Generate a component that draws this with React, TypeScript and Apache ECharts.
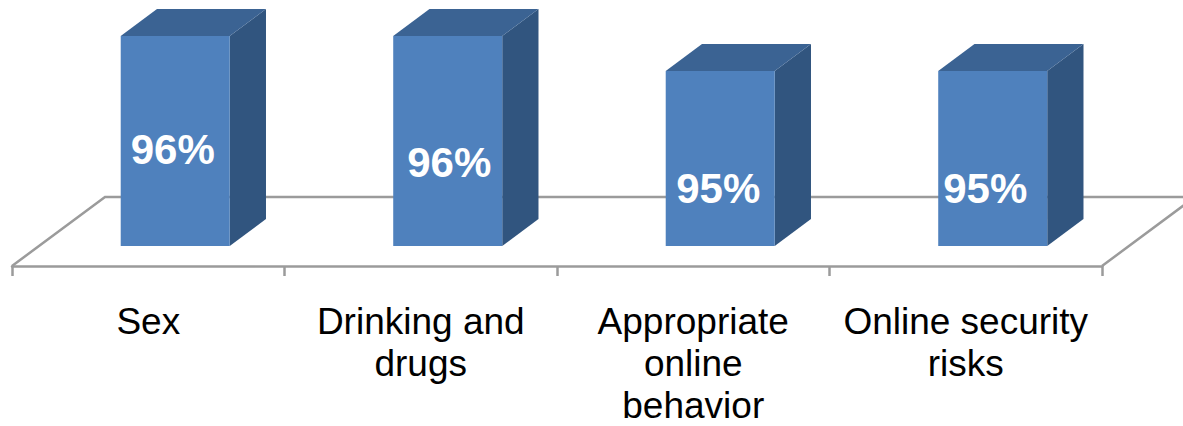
import React, { useEffect, useRef } from "react";
import * as echarts from "echarts";

const categories = [
  "Sex",
  "Drinking and\ndrugs",
  "Appropriate\nonline\nbehavior",
  "Online security\nrisks",
];
const values = [96, 96, 95, 95];
const AXIS_MIN = 90;
const AXIS_MAX = 97;

// style constants (pixel geometry of the oblique 3D look)
const DEPTH_X = 93;
const DEPTH_Y = -69;
const F_FRONT = 0.29;
const F_BACK = 0.68;
const BAR_RATIO = 0.4;
const LABEL_SHIFT: [number, number][] = [
  [-2.5, 9],
  [1.5, 22],
  [-2, 30],
  [-7.5, 30],
];
const LINE_COLOR = "#9b9b9b";

export default function App() {
  const ref = useRef<HTMLDivElement>(null);
  useEffect(() => {
    if (!ref.current) return;
    const chart = echarts.init(ref.current, undefined, { renderer: "svg" });
    const option: any = {
      animation: false,
      backgroundColor: "#ffffff",
      grid: { left: 12, right: 81, top: 21, bottom: 158 },
      xAxis: {
        type: "category",
        data: categories,
        axisLine: { show: true, lineStyle: { color: LINE_COLOR, width: 2.5 } },
        axisTick: {
          show: true,
          interval: 0,
          length: 10,
          lineStyle: { color: LINE_COLOR, width: 2.5 },
        },
        axisLabel: {
          interval: 0,
          margin: 34,
          color: "#000000",
          fontSize: 37,
          lineHeight: 42,
          fontFamily: "Arial, 'Liberation Sans', sans-serif",
        },
      },
      yAxis: {
        type: "value",
        min: AXIS_MIN,
        max: AXIS_MAX,
        show: false,
        splitLine: { show: false },
      },
      series: [
        {
          type: "custom",
          z: 1,
          silent: true,
          data: [0],
          renderItem: (params: any) => {
            const cs = params.coordSys;
            const x0 = cs.x;
            const x1 = cs.x + cs.width;
            const yb = cs.y + cs.height;
            return {
              type: "polyline",
              shape: {
                points: [
                  [x0, yb],
                  [x0 + DEPTH_X, yb + DEPTH_Y],
                  [x1 + DEPTH_X, yb + DEPTH_Y],
                  [x1, yb],
                ],
              },
              style: { stroke: LINE_COLOR, lineWidth: 2.5, fill: "none" },
            };
          },
        },
        {
          type: "custom",
          z: 5,
          data: values.map((v, i) => [i, v]),
          encode: { x: 0, y: 1 },
          renderItem: (params: any, api: any) => {
            const idx = api.value(0);
            const v = api.value(1);
            const top = api.coord([idx, v]);
            const base = api.coord([idx, AXIS_MIN]);
            const band = api.size([1, 0])[0];
            const w = band * BAR_RATIO;
            const fx = top[0] - w / 2 + DEPTH_X * F_FRONT;
            const fyTop = top[1] + DEPTH_Y * F_FRONT;
            const fyBot = base[1] + DEPTH_Y * F_FRONT;
            const dx = DEPTH_X * (F_BACK - F_FRONT);
            const dy = DEPTH_Y * (F_BACK - F_FRONT);
            const shift = LABEL_SHIFT[idx] || [0, 0];
            return {
              type: "group",
              children: [
                {
                  type: "polygon",
                  shape: {
                    points: [
                      [fx + w, fyTop],
                      [fx + w + dx, fyTop + dy],
                      [fx + w + dx, fyBot + dy],
                      [fx + w, fyBot],
                    ],
                  },
                  style: { fill: "#31557f" },
                },
                {
                  type: "polygon",
                  shape: {
                    points: [
                      [fx, fyTop],
                      [fx + dx, fyTop + dy],
                      [fx + w + dx, fyTop + dy],
                      [fx + w, fyTop],
                    ],
                  },
                  style: { fill: "#3b6393" },
                },
                {
                  type: "rect",
                  shape: { x: fx, y: fyTop, width: w, height: fyBot - fyTop },
                  style: { fill: "#4f81bd" },
                },
                {
                  type: "text",
                  style: {
                    text: v + "%",
                    x: fx + w / 2 + shift[0],
                    y: (fyTop + fyBot) / 2 + shift[1],
                    align: "center",
                    verticalAlign: "middle",
                    fill: "#ffffff",
                    fontSize: 42,
                    fontWeight: "bold",
                    fontFamily: "Arial, 'Liberation Sans', sans-serif",
                  },
                },
              ],
            };
          },
        },
      ],
    };
    chart.setOption(option);
    return () => chart.dispose();
  }, []);
  return (
    <div
      ref={ref}
      style={{ position: "fixed", left: 0, top: 0, width: 1183, height: 426 }}
    />
  );
}
